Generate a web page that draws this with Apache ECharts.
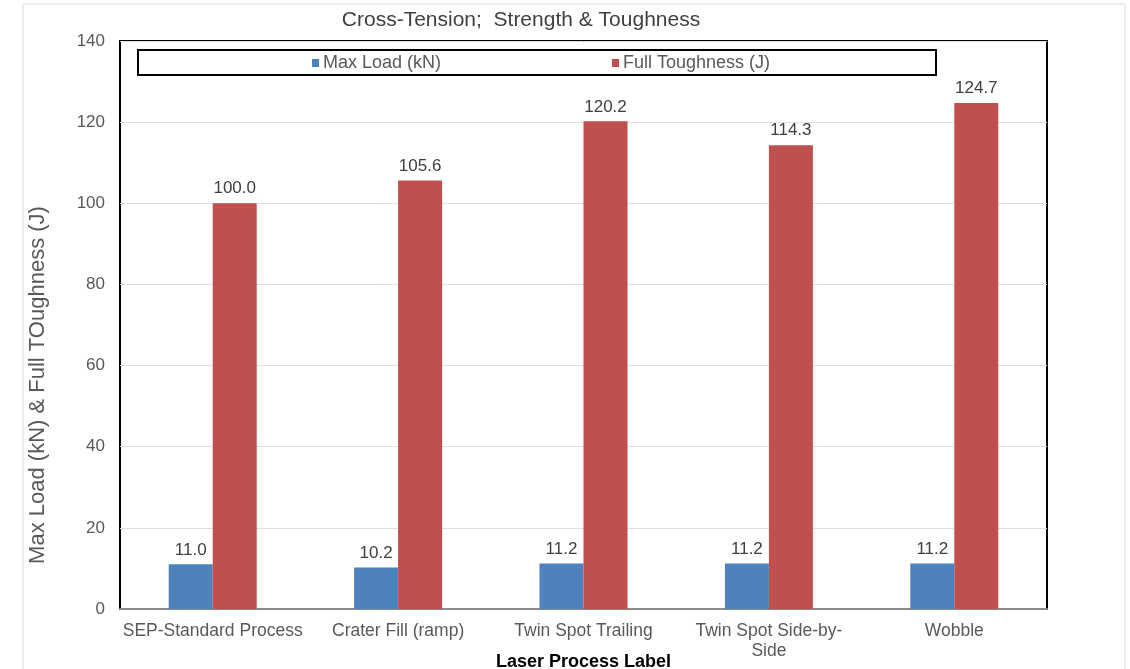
<!DOCTYPE html>
<html>
<head>
<meta charset="utf-8">
<script src="https://cdn.jsdelivr.net/npm/echarts@6/dist/echarts.min.js"></script>
<style>
  html, body { margin: 0; padding: 0; background: #fff; }
  #chart { width: 1130px; height: 669px; }
</style>
</head>
<body>
<div id="chart"></div>
<script>
// Process categories and measured results
const categories = ['SEP-Standard Process', 'Crater Fill (ramp)', 'Twin Spot Trailing', 'Twin Spot Side-by-Side', 'Wobble'];
const maxLoad = [11.0, 10.2, 11.2, 11.2, 11.2];
const fullToughness = [100.0, 105.6, 120.2, 114.3, 124.7];
const yTicks = { min: 0, max: 140, interval: 20 };

const chart = echarts.init(document.getElementById('chart'), null, { renderer: 'canvas' });

const labelStyle = {
  show: true,
  position: 'top',
  distance: 6,
  color: '#404040',
  fontSize: 17,
  fontFamily: 'Liberation Sans, Arial, sans-serif',
  formatter: p => p.value.toFixed(1)
};

chart.setOption({
  animation: false,
  textStyle: { fontFamily: 'Liberation Sans, Arial, sans-serif' },
  title: {
    text: 'Cross-Tension;  Strength & Toughness',
    left: 521,
    textAlign: 'center',
    top: 10,
    padding: 0,
    textStyle: { fontSize: 21, fontWeight: 'normal', color: '#404040' }
  },
  graphic: [
    // outer frame
    { type: 'rect', shape: { x: 23, y: 4, width: 1102, height: 680 }, style: { fill: 'none', stroke: '#dcdcdc', lineWidth: 1 }, silent: true },
    // legend box
    { type: 'rect', shape: { x: 138, y: 50, width: 798, height: 25 }, style: { fill: '#fff', stroke: '#000', lineWidth: 2 }, z: 5, silent: true }
  ],
  legend: {
    left: 312,
    top: 54,
    padding: 0,
    itemWidth: 7,
    itemHeight: 8,
    itemGap: 171,
    icon: 'rect',
    z: 10,
    textStyle: { fontSize: 18, color: '#595959', padding: [0, 0, 0, -1] },
    data: ['Max Load (kN)', 'Full Toughness (J)']
  },
  grid: {
    left: 120, right: 83, top: 41, bottom: 60,
    outerBoundsMode: 'none',
    containLabel: false,
    show: true, borderColor: '#000', borderWidth: 2, backgroundColor: 'transparent'
  },
  xAxis: {
    type: 'category',
    data: categories,
    name: 'Laser Process Label',
    nameLocation: 'middle',
    nameGap: 44,
    nameMoveOverlap: false,
    nameTextStyle: { fontSize: 18, fontWeight: 'bold', color: '#000' },
    axisLine: { show: true, lineStyle: { color: '#8c8c8c', width: 2 } },
    axisTick: { show: false },
    axisLabel: {
      fontSize: 17.5,
      color: '#595959',
      margin: 12,
      lineHeight: 20,
      interval: 0,
      formatter: v => v.replace('Side-by-Side', 'Side-by-\nSide')
    }
  },
  yAxis: {
    type: 'value',
    min: yTicks.min,
    max: yTicks.max,
    interval: yTicks.interval,
    name: 'Max Load (kN) & Full TOughness (J)',
    nameLocation: 'middle',
    nameGap: 71,
    nameMoveOverlap: false,
    nameTextStyle: { fontSize: 22, color: '#595959', padding: [0, 120, 0, 0] },
    axisLine: { show: false },
    axisTick: { show: false },
    axisLabel: { fontSize: 17, color: '#595959', margin: 15 },
    splitLine: { lineStyle: { color: '#e0e0e0', width: 1 } }
  },
  series: [
    {
      name: 'Max Load (kN)',
      type: 'bar',
      data: maxLoad,
      barWidth: 44,
      barGap: '0%',
      itemStyle: { color: '#4f81bd' },
      label: labelStyle
    },
    {
      name: 'Full Toughness (J)',
      type: 'bar',
      data: fullToughness,
      barWidth: 44,
      barGap: '0%',
      itemStyle: { color: '#c0504d' },
      label: labelStyle
    }
  ]
});
</script>
</body>
</html>
